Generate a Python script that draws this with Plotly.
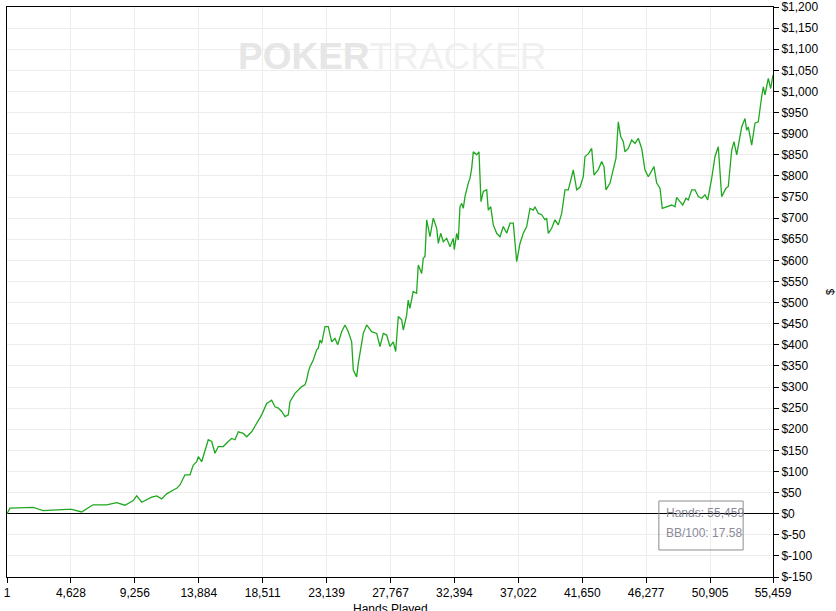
import plotly.graph_objects as go

hands = [1, 217, 1904, 2606, 4322, 4684, 5408, 6226, 7218, 7942, 8543, 9144, 9390, 9752,
         10476, 10838, 11200, 11562, 12040, 12286, 12525, 12887, 13249, 13488, 13734, 13850,
         14096, 14335, 14574, 14820, 15059, 15298, 15660, 16022, 16268, 16507, 16746, 17108,
         17354, 17716, 18078, 18440, 18802, 19164, 19403, 19642, 19888, 20127, 20366, 20489,
         20851, 21090, 21336, 21575, 21698, 21814, 21937, 22176, 22422, 22538, 22661, 22784,
         23023, 23262, 23508, 23747, 23943, 24232, 24471, 24710, 24956, 25072, 25318, 25434,
         25796, 26042, 26404, 26766, 27005, 27244, 27490, 27729, 27968, 28142, 28330, 28576,
         28692, 28938, 29047, 29170, 29409, 29655, 29778, 30024, 30140, 30263, 30386, 30625,
         30864, 31110, 31226, 31400, 31589, 31834, 32073, 32312, 32385, 32559, 32675, 32797,
         32920, 33036, 33159, 33398, 33521, 33644, 33760, 34006, 34173, 34318, 34484, 34730,
         34846, 35020, 35208, 35454, 35693, 35932, 36178, 36417, 36656, 36902, 37141, 37380,
         37626, 37865, 38104, 38227, 38466, 38712, 38951, 39074, 39190, 39436, 39675, 39914,
         40160, 40399, 40638, 41000, 41246, 41485, 41724, 41847, 42086, 42332, 42499, 42810,
         43056, 43223, 43368, 43657, 43896, 44092, 44258, 44432, 44621, 44743, 44982, 45228,
         45467, 45706, 45952, 46191, 46430, 46676, 46843, 47038, 47277, 47444, 47762, 48124,
         48363, 48486, 48725, 48921, 49160, 49326, 49572, 49811, 50050, 50296, 50535, 50731,
         51020, 51259, 51498, 51621, 51744, 52056, 52222, 52468, 52635, 52830, 53069, 53192,
         53431, 53554, 53670, 53916, 54155, 54394, 54640, 54756, 54879, 55118, 55292, 55459]

winnings = [0, 13, 15, 7, 10, 10, 4, 21, 21, 26, 20, 31, 42, 27,
            39, 42, 35, 47, 56, 60, 68, 92, 92, 115, 123, 135,
            123, 151, 175, 171, 143, 159, 159, 171, 178, 175, 194, 190,
            182, 194, 214, 234, 261, 269, 253, 250, 242, 230, 234, 265,
            285, 293, 301, 305, 317, 336, 348, 364, 388, 392, 411, 404,
            443, 443, 407, 415, 400, 431, 447, 431, 407, 340, 324, 356,
            427, 447, 431, 427, 396, 427, 423, 396, 407, 384, 467, 459,
            435, 471, 506, 486, 526, 522, 589, 569, 605, 609, 696, 656,
            700, 676, 640, 664, 644, 652, 632, 652, 625, 664, 648, 727,
            735, 723, 751, 783, 794, 818, 857, 850, 857, 739, 763, 767,
            719, 727, 684, 664, 656, 680, 664, 688, 688, 597, 640, 664,
            680, 723, 719, 727, 711, 708, 696, 700, 664, 676, 696, 684,
            711, 767, 767, 814, 767, 773, 798, 846, 852, 865, 802, 815,
            834, 822, 767, 783, 818, 842, 928, 893, 881, 857, 865, 885,
            877, 889, 865, 814, 798, 814, 822, 783, 771, 723, 727, 731,
            727, 749, 739, 731, 747, 743, 767, 767, 751, 747, 755, 743,
            794, 846, 869, 814, 751, 771, 775, 861, 881, 850, 889, 916,
            936, 908, 916, 873, 925, 928, 988, 1011, 992, 1031, 1007, 1039]

x_ticks = [1, 4628, 9256, 13884, 18511, 23139, 27767, 32394, 37022, 41650, 46277, 50905, 55459]
x_tick_labels = ["1", "4,628", "9,256", "13,884", "18,511", "23,139", "27,767", "32,394",
                 "37,022", "41,650", "46,277", "50,905", "55,459"]
y_ticks = list(range(-150, 1201, 50))
y_tick_labels = ["$" + f"{v:,}" for v in y_ticks]

stats_lines = ["Hands: 55,459", "BB/100: 17.58"]

font_family = "Liberation Sans, Arial, sans-serif"

fig = go.Figure()
fig.add_trace(go.Scatter(x=hands, y=winnings, mode="lines",
                         line=dict(color="#1fa81f", width=1.3), hoverinfo="skip",
                         showlegend=False))

fig.update_layout(
    width=836, height=611,
    margin=dict(l=7, r=63, t=7, b=34, autoexpand=False),
    paper_bgcolor="white", plot_bgcolor="white",
    font=dict(family=font_family, size=12, color="black"),
    xaxis=dict(range=[1, 55459], tickvals=x_ticks, ticktext=x_tick_labels,
               automargin=False, ticklabeloverflow="allow",
               showgrid=True, gridcolor="#ececec", gridwidth=1,
               showline=True, linecolor="black", linewidth=1, mirror=True,
               ticks="outside", ticklen=5, tickcolor="black",
               zeroline=False),
    yaxis=dict(range=[-150, 1200], tickvals=y_ticks, ticktext=y_tick_labels,
               automargin=False, ticklabeloverflow="allow",
               side="right", showgrid=True, gridcolor="#ececec", gridwidth=1,
               showline=True, linecolor="black", linewidth=1, mirror=True,
               ticks="outside", ticklen=5, tickcolor="black",
               zeroline=True, zerolinecolor="black", zerolinewidth=1),
)

# axis titles
fig.add_annotation(xref="paper", yref="paper", x=0.5, y=-0.0404,
                   text="Hands Played", showarrow=False,
                   xanchor="center", yanchor="top",
                   font=dict(family=font_family, size=12, color="black"))
fig.add_annotation(xref="paper", yref="paper", x=1.0744, y=0.5,
                   text="$", showarrow=False, textangle=-90,
                   xanchor="center", yanchor="middle",
                   font=dict(family=font_family, size=11, color="black"))

# watermark
fig.add_annotation(xref="paper", yref="paper", x=0.502, y=0.914,
                   text="<b><span style='color:#e6e6e6'>POKER</span></b>TRACKER",
                   showarrow=False,
                   font=dict(family=font_family, size=37, color="#f0f0f0"),
                   xanchor="center", yanchor="middle")

# stats box
fig.add_shape(type="rect", xref="paper", yref="paper",
              x0=0.851, x1=0.961, y0=0.0474, y1=0.1333,
              line=dict(color="#8c8c8c", width=1), fillcolor="rgba(0,0,0,0)")
for i, t in enumerate(stats_lines):
    fig.add_annotation(xref="paper", yref="paper", x=0.8577, y=0.1123 - i * 0.0351,
                       text=t, showarrow=False, xanchor="left", yanchor="middle",
                       font=dict(family=font_family, size=12, color="#8a8a9a"))

# remove the browser's default 8px body margin so the figure fills the window
fig.write_html("out.html", config={"displayModeBar": False},
               post_script="document.body.style.margin='0px';")
